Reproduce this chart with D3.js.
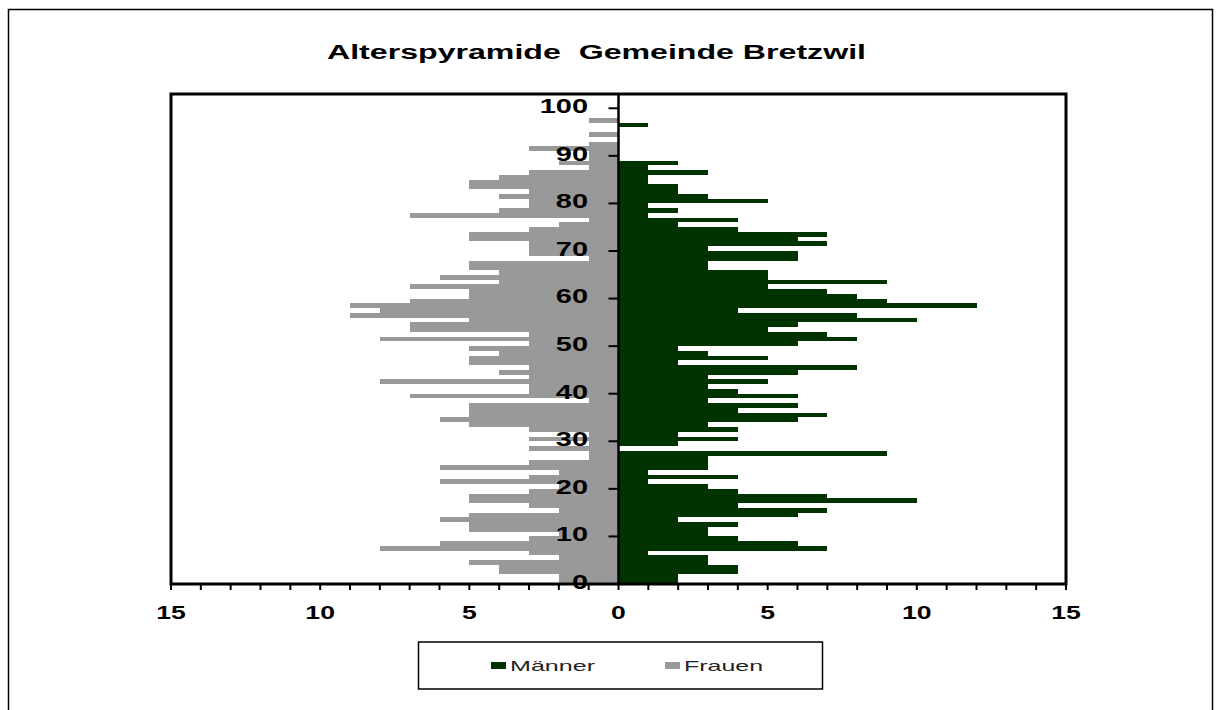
<!DOCTYPE html>
<html>
<head>
<meta charset="utf-8">
<script src="https://cdn.jsdelivr.net/npm/d3@7"></script>
<style>
  body { margin: 0; background: #fff; }
  svg { display: block; }
</style>
</head>
<body>
<div id="chart"></div>
<script>
// Alter 0..102, Anzahl Personen je Jahrgang
var ages = d3.range(0, 103);
var maenner = [
  2, 2, 4, 4, 3, 3, 1, 7, 6, 4,
  3, 3, 4, 2, 6, 7, 4, 10, 7, 4,
  3, 1, 4, 1, 3, 3, 3, 9, 0, 2,
  4, 2, 4, 3, 6, 7, 4, 6, 3, 6,
  4, 3, 5, 3, 6, 8, 2, 5, 3, 2,
  6, 8, 7, 5, 6, 10, 8, 4, 12, 9,
  8, 7, 5, 9, 5, 5, 3, 3, 6, 6,
  3, 7, 6, 7, 4, 2, 4, 1, 2, 1,
  5, 3, 2, 2, 1, 1, 3, 1, 2, 0,
  0, 0, 0, 0, 0, 0, 1, 0, 0, 0,
  0, 0, 0
];
var frauen = [
  2, 2, 4, 4, 5, 2, 3, 8, 6, 3,
  2, 5, 5, 6, 5, 2, 3, 5, 5, 3,
  2, 6, 3, 2, 6, 3, 1, 1, 3, 1,
  3, 1, 3, 5, 6, 5, 5, 5, 1, 7,
  3, 3, 8, 3, 4, 3, 5, 5, 4, 5,
  3, 8, 3, 7, 7, 5, 9, 8, 9, 7,
  5, 5, 7, 4, 6, 4, 5, 5, 1, 3,
  3, 3, 5, 5, 3, 2, 1, 7, 4, 3,
  3, 4, 3, 5, 5, 4, 3, 1, 2, 1,
  1, 3, 1, 0, 1, 0, 0, 1, 0, 0,
  0, 0, 0
];
var xTicks = [-15, -10, -5, 0, 5, 10, 15];
var xMinor = d3.range(-15, 16);
var yLabels = [0, 10, 20, 30, 40, 50, 60, 70, 80, 90, 100];
var seriesNames = ["Männer", "Frauen"];

var maennerFill = "#003300";
var frauenFill = "#999999";
var font = "'Liberation Sans', Arial, sans-serif";

var svg = d3.select("#chart")
  .append("svg")
  .attr("width", 1221)
  .attr("height", 710);

// Diagrammfläche
svg.append("rect")
  .attr("x", 8.5)
  .attr("y", 9.5)
  .attr("width", 1204)
  .attr("height", 720)
  .attr("fill", "#fff")
  .attr("stroke", "#000")
  .attr("stroke-width", 1.5);

var plot = { left: 171, right: 1066, top: 94, bottom: 584 };

var x = d3.scaleLinear().domain([-15, 15]).range([plot.left, plot.right]);
var y = d3.scaleBand().domain(ages).range([plot.bottom, plot.top]).padding(0);

svg.append("rect")
  .attr("x", plot.left)
  .attr("y", plot.top)
  .attr("width", plot.right - plot.left)
  .attr("height", plot.bottom - plot.top)
  .attr("fill", "#fff");

var bars = svg.append("g").attr("shape-rendering", "crispEdges");

bars.selectAll("rect.frauen")
  .data(ages)
  .enter()
  .append("rect")
  .attr("class", "frauen")
  .attr("x", function (d) { return x(-frauen[d]); })
  .attr("y", function (d) { return y(d); })
  .attr("width", function (d) { return x(0) - x(-frauen[d]); })
  .attr("height", y.bandwidth())
  .attr("fill", frauenFill);

bars.selectAll("rect.maenner")
  .data(ages)
  .enter()
  .append("rect")
  .attr("class", "maenner")
  .attr("x", x(0))
  .attr("y", function (d) { return y(d); })
  .attr("width", function (d) { return x(maenner[d]) - x(0); })
  .attr("height", y.bandwidth())
  .attr("fill", maennerFill);

// senkrechte Achse bei 0
svg.append("line")
  .attr("x1", x(0))
  .attr("x2", x(0))
  .attr("y1", plot.top)
  .attr("y2", plot.bottom)
  .attr("stroke", "#000")
  .attr("stroke-width", 2.5);

svg.append("g").selectAll("line")
  .data(yLabels)
  .enter()
  .append("line")
  .attr("x1", x(0) - 10)
  .attr("x2", x(0))
  .attr("y1", function (d) { return y(d) + y.bandwidth(); })
  .attr("y2", function (d) { return y(d) + y.bandwidth(); })
  .attr("stroke", "#000")
  .attr("stroke-width", 2);

svg.append("g").selectAll("text")
  .data(yLabels)
  .enter()
  .append("text")
  .attr("transform", function (d) {
    return "translate(588," + (y(d) + y.bandwidth() / 2) + ") scale(1.45,1)";
  })
  .attr("text-anchor", "end")
  .attr("dy", "0.36em")
  .attr("font-family", font)
  .attr("font-weight", "bold")
  .attr("font-size", "20px")
  .attr("fill", "#000")
  .text(function (d) { return d; });

// waagrechte Achse
svg.append("g").selectAll("line")
  .data(xMinor)
  .enter()
  .append("line")
  .attr("x1", function (d) { return x(d); })
  .attr("x2", function (d) { return x(d); })
  .attr("y1", plot.bottom)
  .attr("y2", plot.bottom + 6)
  .attr("stroke", "#000")
  .attr("stroke-width", 2);

svg.append("g").selectAll("text")
  .data(xTicks)
  .enter()
  .append("text")
  .attr("transform", function (d) {
    return "translate(" + x(d) + ",612) scale(1.4,1)";
  })
  .attr("text-anchor", "middle")
  .attr("dy", "0.36em")
  .attr("font-family", font)
  .attr("font-weight", "bold")
  .attr("font-size", "19px")
  .attr("fill", "#000")
  .text(function (d) { return Math.abs(d); });

// Rahmen der Zeichnungsfläche
svg.append("rect")
  .attr("x", plot.left)
  .attr("y", plot.top)
  .attr("width", plot.right - plot.left)
  .attr("height", plot.bottom - plot.top)
  .attr("fill", "none")
  .attr("stroke", "#000")
  .attr("stroke-width", 3);

// Titel
svg.append("text")
  .attr("x", 327)
  .attr("y", 59)
  .attr("textLength", 539)
  .attr("lengthAdjust", "spacingAndGlyphs")
  .attr("font-family", font)
  .attr("font-weight", "bold")
  .attr("font-size", "20px")
  .attr("fill", "#000")
  .text("Alterspyramide  Gemeinde Bretzwil")
  .style("white-space", "pre");

// Legende
var legend = svg.append("g");
legend.append("rect")
  .attr("x", 418.5)
  .attr("y", 642)
  .attr("width", 404)
  .attr("height", 47)
  .attr("fill", "#fff")
  .attr("stroke", "#000")
  .attr("stroke-width", 1.5);

var legendItems = [
  { name: seriesNames[0], fill: maennerFill, x: 491, len: 85 },
  { name: seriesNames[1], fill: frauenFill, x: 665, len: 79 }
];

legend.selectAll("rect.key")
  .data(legendItems)
  .enter()
  .append("rect")
  .attr("class", "key")
  .attr("x", function (d) { return d.x; })
  .attr("y", 662)
  .attr("width", 15)
  .attr("height", 7)
  .attr("fill", function (d) { return d.fill; });

legend.selectAll("text")
  .data(legendItems)
  .enter()
  .append("text")
  .attr("x", function (d) { return d.x + 19; })
  .attr("y", 671)
  .attr("textLength", function (d) { return d.len; })
  .attr("lengthAdjust", "spacingAndGlyphs")
  .attr("font-family", font)
  .attr("font-size", "15px")
  .attr("fill", "#222")
  .text(function (d) { return d.name; });
</script>
</body>
</html>
